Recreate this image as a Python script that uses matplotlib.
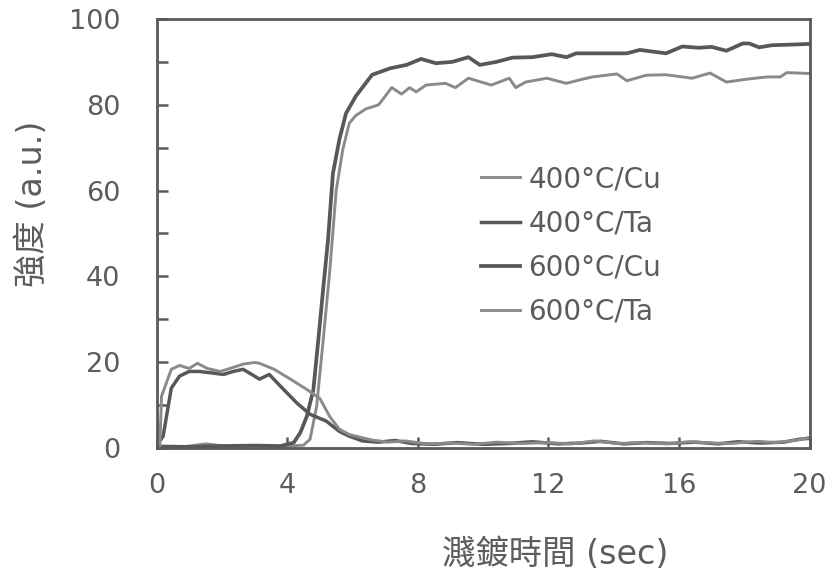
import numpy as np
import matplotlib
matplotlib.use('Agg')
import matplotlib.pyplot as plt

plt.rcParams['font.family'] = ['DejaVu Sans', 'Noto Sans CJK TC']

# Sputtering-time depth profiles (time in sec, intensity in a.u.)
cu400_t = [0, 0.8, 1.5, 2.2, 3.0, 3.8, 4.5, 4.7, 4.9, 5.1, 5.3, 5.5, 5.7, 5.9, 6.1, 6.4, 6.8,
           7.2, 7.5, 7.75, 7.95, 8.25, 8.85, 9.15, 9.55, 10.25, 10.8, 11.0, 11.3, 11.95, 12.55,
           12.95, 13.35, 14.1, 14.4, 15.0, 15.6, 16.4, 16.95, 17.45, 18.1, 18.7, 19.1, 19.3, 20.0]
cu400_y = [0.3, 0.2, 0.9, 0.3, 0.5, 0.3, 0.6, 2.0, 9.6, 25, 41, 60, 69.5, 75.7, 77.5, 79, 80,
           84, 82.5, 84, 83, 84.6, 85, 84, 86.2, 84.6, 86.2, 84, 85.3, 86.2, 85, 85.8, 86.5,
           87.2, 85.6, 86.9, 87.0, 86.2, 87.4, 85.3, 86.0, 86.5, 86.5, 87.5, 87.3]

ta400_t = [0, 0.2, 0.45, 0.7, 1.0, 1.3, 1.75, 2.05, 2.35, 2.65, 3.0, 3.15, 3.45, 3.8, 4.3,
           4.7, 5.2, 5.6, 5.9, 6.3, 6.8, 7.3, 7.8, 8.5, 9.2, 10.0, 10.8, 11.5, 12.3, 13.0,
           13.6, 14.3, 15.0, 15.7, 16.5, 17.2, 17.8, 18.5, 19.2, 19.7, 20.0]
ta400_y = [0.5, 2.7, 13.9, 16.7, 17.8, 17.8, 17.4, 17.1, 17.8, 18.3, 16.7, 16.0, 17.1, 14.3,
           10.4, 7.8, 6.2, 3.8, 2.7, 1.6, 1.3, 1.7, 1.0, 0.8, 1.2, 0.8, 1.0, 1.4, 0.9, 1.1,
           1.5, 0.9, 1.2, 1.0, 1.3, 0.9, 1.4, 1.1, 1.3, 2.0, 2.2]

cu600_t = [0, 1.0, 2.0, 3.0, 3.8, 4.2, 4.4, 4.6, 4.8, 4.95, 5.1, 5.25, 5.4, 5.6, 5.8, 6.1,
           6.6, 7.15, 7.65, 8.1, 8.55, 9.05, 9.55, 9.9, 10.4, 10.9, 11.5, 12.1, 12.55, 12.85,
           13.55, 14.4, 14.8, 15.6, 16.1, 16.6, 17.0, 17.45, 17.95, 18.15, 18.45, 18.85, 19.3, 20.0]
cu600_y = [0.3, 0.2, 0.4, 0.5, 0.4, 1.2, 3.5, 7.3, 13.5, 25, 37, 48.5, 64, 72, 78, 82,
           87, 88.5, 89.3, 90.7, 89.7, 90, 91.1, 89.3, 90, 91, 91.1, 91.8, 91.1, 92,
           92, 92, 92.8, 92, 93.6, 93.3, 93.5, 92.6, 94.3, 94.3, 93.4, 93.9, 94.0, 94.2]

ta600_t = [0, 0.1, 0.15, 0.45, 0.7, 1.0, 1.25, 1.55, 1.95, 2.25, 2.65, 3.0, 3.15, 3.6, 4.1,
           4.6, 5.0, 5.3, 5.6, 5.9, 6.1, 6.6, 7.1, 7.6, 8.3, 9.0, 9.7, 10.4, 11.2, 12.0, 12.7,
           13.4, 14.1, 14.9, 15.6, 16.3, 17.0, 17.6, 18.4, 19.0, 19.6, 20.0]
ta600_y = [8.0, 0.3, 12.0, 18.3, 19.2, 18.5, 19.7, 18.5, 17.8, 18.5, 19.5, 19.9, 19.7, 18.3,
           16.0, 13.6, 11.5, 7.3, 4.3, 3.1, 2.7, 1.8, 1.3, 1.6, 0.9, 1.1, 0.8, 1.3, 1.0, 1.2,
           0.9, 1.6, 1.0, 1.2, 0.9, 1.4, 1.1, 1.0, 1.5, 1.2, 1.8, 2.4]

dark = '#585858'
light = '#8a8a8a'
text_c = '#5c5c5c'

fig = plt.figure(figsize=(8.33, 5.77), dpi=100)
ax = fig.add_axes([0.188, 0.224, 0.784, 0.743])

ax.plot(cu400_t, cu400_y, color=light, lw=2.1, label='400°C/Cu')
ax.plot(ta400_t, ta400_y, color=dark, lw=2.5, label='400°C/Ta')
ax.plot(cu600_t, cu600_y, color=dark, lw=2.7, label='600°C/Cu')
ax.plot(ta600_t, ta600_y, color=light, lw=2.1, label='600°C/Ta')

ax.set_xlim(0, 20)
ax.set_ylim(0, 100)
ax.set_xticks(np.arange(0, 21, 4))
ax.set_yticks(np.arange(0, 101, 20))
ax.set_yticks(np.arange(0, 101, 10), minor=True)

for s in ax.spines.values():
    s.set_color('#5a5a5a')
    s.set_linewidth(2.0)

ax.tick_params(axis='both', which='both', direction='in', color='#5a5a5a', width=1.8,
               labelsize=19.5, labelcolor=text_c)
ax.tick_params(axis='y', which='both', length=8, pad=26)
ax.tick_params(axis='x', which='major', length=8, pad=18)
ax.tick_params(axis='x', which='minor', length=0)

ax.set_ylabel('強度 (a.u.)', fontsize=24, color=text_c)
ax.yaxis.set_label_coords(-0.165, 0.57)
ax.set_xlabel('濺鍍時間 (sec)', fontsize=24, color=text_c)
ax.xaxis.set_label_coords(0.611, -0.21)

leg = ax.legend(loc='upper left', bbox_to_anchor=(0.48, 0.685), frameon=False,
                fontsize=20, handlelength=1.4, handletextpad=0.3, labelspacing=0.58,
                borderaxespad=0)
for t in leg.get_texts():
    t.set_color(text_c)

fig.savefig('out.png', dpi=100)
